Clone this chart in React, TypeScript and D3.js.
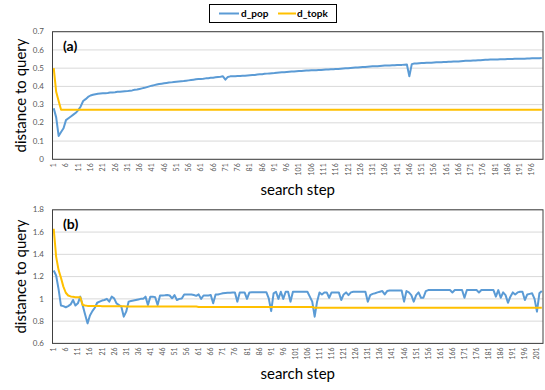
import React from "react";
import * as d3 from "d3";

// ---------- DATA ----------
const popA: number[] = [
  0.28, 0.23, 0.128, 0.15, 0.17, 0.215, 0.225, 0.235, 0.245, 0.255, 0.27, 0.29, 0.32, 0.33, 0.342, 0.35, 0.354, 0.357, 0.36, 0.361,
  0.362, 0.363, 0.364, 0.366, 0.367, 0.368, 0.37, 0.371, 0.372, 0.373,
  0.374, 0.376, 0.378, 0.381, 0.383, 0.386, 0.389, 0.392, 0.396, 0.4,
  0.404, 0.407, 0.41, 0.413, 0.415, 0.417, 0.419, 0.421, 0.422, 0.424,
  0.426, 0.427, 0.428, 0.429, 0.431, 0.433, 0.435, 0.437, 0.439, 0.44,
  0.441, 0.442, 0.444, 0.445, 0.447, 0.448, 0.45, 0.452, 0.453, 0.455,
  0.437, 0.452, 0.455, 0.456, 0.456, 0.457, 0.457, 0.458, 0.459, 0.46,
  0.461, 0.462, 0.463, 0.465, 0.466, 0.467, 0.469, 0.47, 0.471, 0.472,
  0.473, 0.475, 0.476, 0.477, 0.478, 0.479, 0.48, 0.481, 0.482, 0.483,
  0.484, 0.485, 0.486, 0.487, 0.487, 0.488, 0.488, 0.489, 0.49, 0.49,
  0.491, 0.492, 0.493, 0.494, 0.494, 0.495, 0.496, 0.497, 0.498, 0.499,
  0.5, 0.501, 0.502, 0.503, 0.504, 0.505, 0.506, 0.507, 0.508, 0.509,
  0.51, 0.51, 0.511, 0.512, 0.513, 0.514, 0.514, 0.515, 0.516, 0.516,
  0.517, 0.518, 0.518, 0.519, 0.52, 0.455, 0.522, 0.525, 0.526, 0.527,
  0.528, 0.528, 0.529, 0.53, 0.53, 0.531, 0.532, 0.532, 0.533, 0.534,
  0.534, 0.535, 0.535, 0.536, 0.536, 0.537, 0.538, 0.539, 0.54, 0.54,
  0.541, 0.542, 0.542, 0.543, 0.544, 0.545, 0.546, 0.546, 0.547, 0.547,
  0.548, 0.548, 0.549, 0.549, 0.549, 0.55, 0.55, 0.55, 0.551, 0.551,
  0.551, 0.552, 0.552, 0.553, 0.553, 0.554, 0.554, 0.555, 0.555, 0.556,
];

const topkA: number[] = [
  0.5, 0.37, 0.32, 0.272, 0.272, 0.272, 0.272, 0.272, 0.272, 0.272,
  0.272, 0.272, 0.272, 0.272, 0.272, 0.272, 0.272, 0.272, 0.272, 0.272,
  0.272, 0.272, 0.272, 0.272, 0.272, 0.272, 0.272, 0.272, 0.272, 0.272,
  0.272, 0.272, 0.272, 0.272, 0.272, 0.272, 0.272, 0.272, 0.272, 0.272,
  0.272, 0.272, 0.272, 0.272, 0.272, 0.272, 0.272, 0.272, 0.272, 0.272,
  0.272, 0.272, 0.272, 0.272, 0.272, 0.272, 0.272, 0.272, 0.272, 0.272,
  0.272, 0.272, 0.272, 0.272, 0.272, 0.272, 0.272, 0.272, 0.272, 0.272,
  0.272, 0.272, 0.272, 0.272, 0.272, 0.272, 0.272, 0.272, 0.272, 0.272,
  0.272, 0.272, 0.272, 0.272, 0.272, 0.272, 0.272, 0.272, 0.272, 0.272,
  0.272, 0.272, 0.272, 0.272, 0.272, 0.272, 0.272, 0.272, 0.272, 0.272,
  0.272, 0.272, 0.272, 0.272, 0.272, 0.272, 0.272, 0.272, 0.272, 0.272,
  0.272, 0.272, 0.272, 0.272, 0.272, 0.272, 0.272, 0.272, 0.272, 0.272,
  0.272, 0.272, 0.272, 0.272, 0.272, 0.272, 0.272, 0.272, 0.272, 0.272,
  0.272, 0.272, 0.272, 0.272, 0.272, 0.272, 0.272, 0.272, 0.272, 0.272,
  0.272, 0.272, 0.272, 0.272, 0.272, 0.272, 0.272, 0.272, 0.272, 0.272,
  0.272, 0.272, 0.272, 0.272, 0.272, 0.272, 0.272, 0.272, 0.272, 0.272,
  0.272, 0.272, 0.272, 0.272, 0.272, 0.272, 0.272, 0.272, 0.272, 0.272,
  0.272, 0.272, 0.272, 0.272, 0.272, 0.272, 0.272, 0.272, 0.272, 0.272,
  0.272, 0.272, 0.272, 0.272, 0.272, 0.272, 0.272, 0.272, 0.272, 0.272,
  0.272, 0.272, 0.272, 0.272, 0.272, 0.272, 0.272, 0.272, 0.272, 0.272,
];

const popB: number[] = [
  1.255, 1.21, 1.09, 0.94, 0.935, 0.925, 0.935, 0.95, 0.99, 0.94,
  0.96, 1.02, 0.94, 0.86, 0.78, 0.85, 0.89, 0.92, 0.965, 0.975,
  0.985, 0.99, 1.0, 0.975, 1.02, 1.005, 0.96, 0.945, 0.93, 0.84,
  0.885, 0.975, 0.98, 0.985, 0.99, 0.995, 1.0, 1.0, 1.02, 0.945,
  1.02, 1.02, 1.015, 0.945, 1.03, 1.03, 1.032, 1.035, 1.03, 1.005,
  1.034, 0.99, 1.0, 1.004, 1.04, 1.04, 1.04, 1.04, 1.035, 1.027,
  1.04, 1.0, 1.03, 1.03, 1.03, 1.034, 0.96, 1.04, 1.04, 1.045,
  1.05, 1.052, 1.054, 1.056, 1.058, 1.058, 0.975, 1.058, 1.058, 1.058,
  1.0, 1.058, 1.06, 1.06, 1.06, 1.06, 1.06, 1.06, 1.06, 1.004,
  0.89, 1.05, 1.064, 1.0, 1.064, 1.0, 1.064, 1.064, 0.975, 1.064,
  1.064, 1.064, 1.064, 1.064, 1.064, 1.064, 1.02, 0.975, 0.84, 0.975,
  1.058, 1.04, 1.058, 1.058, 1.01, 1.058, 1.058, 1.058, 1.058, 0.99,
  1.04, 1.058, 1.034, 1.058, 1.064, 1.064, 1.064, 1.064, 1.064, 1.064,
  0.975, 1.034, 1.045, 1.05, 1.058, 1.064, 1.07, 1.04, 1.07, 1.075,
  1.075, 1.075, 1.075, 1.075, 1.075, 0.975, 1.07, 1.058, 1.034, 0.975,
  1.034, 1.058, 1.01, 1.01, 1.07, 1.079, 1.079, 1.079, 1.079, 1.079,
  1.079, 1.079, 1.079, 1.079, 1.079, 1.058, 1.079, 1.079, 1.079, 1.079,
  1.01, 1.079, 1.079, 1.079, 1.079, 1.079, 1.058, 1.079, 1.079, 1.079,
  1.079, 1.079, 1.079, 1.02, 1.079, 1.01, 1.058, 1.034, 0.965, 1.02,
  1.058, 1.04, 1.058, 1.064, 1.064, 0.99, 1.04, 1.045, 1.05, 1.0,
  0.885, 1.05, 1.07,
];

const topkB: number[] = [
  1.63, 1.38, 1.26, 1.19, 1.11, 1.055, 1.03, 1.022, 1.018, 1.015,
  1.015, 1.015, 0.945, 0.94, 0.937, 0.937, 0.937, 0.937, 0.937, 0.937,
  0.934, 0.934, 0.934, 0.934, 0.934, 0.934, 0.934, 0.934, 0.934, 0.934,
  0.931, 0.931, 0.931, 0.931, 0.931, 0.931, 0.931, 0.931, 0.931, 0.931,
  0.931, 0.931, 0.931, 0.931, 0.931, 0.931, 0.931, 0.931, 0.931, 0.931,
  0.931, 0.931, 0.931, 0.931, 0.931, 0.931, 0.931, 0.931, 0.931, 0.931,
  0.927, 0.927, 0.927, 0.927, 0.927, 0.927, 0.927, 0.927, 0.927, 0.927,
  0.927, 0.927, 0.927, 0.927, 0.927, 0.927, 0.927, 0.927, 0.927, 0.927,
  0.927, 0.927, 0.927, 0.927, 0.927, 0.927, 0.927, 0.927, 0.927, 0.927,
  0.927, 0.927, 0.927, 0.927, 0.927, 0.927, 0.927, 0.927, 0.927, 0.927,
  0.927, 0.927, 0.927, 0.927, 0.927, 0.927, 0.927, 0.927, 0.921, 0.921,
  0.921, 0.921, 0.921, 0.921, 0.921, 0.921, 0.921, 0.921, 0.921, 0.921,
  0.921, 0.921, 0.921, 0.921, 0.921, 0.921, 0.921, 0.921, 0.921, 0.921,
  0.921, 0.921, 0.921, 0.921, 0.921, 0.921, 0.921, 0.921, 0.921, 0.921,
  0.921, 0.921, 0.921, 0.921, 0.921, 0.921, 0.921, 0.921, 0.921, 0.921,
  0.921, 0.921, 0.921, 0.921, 0.921, 0.921, 0.921, 0.921, 0.921, 0.921,
  0.921, 0.921, 0.921, 0.921, 0.921, 0.921, 0.921, 0.921, 0.921, 0.921,
  0.921, 0.921, 0.921, 0.921, 0.921, 0.921, 0.921, 0.921, 0.921, 0.921,
  0.921, 0.921, 0.921, 0.921, 0.921, 0.921, 0.921, 0.921, 0.921, 0.921,
  0.921, 0.921, 0.921, 0.921, 0.921, 0.921, 0.921, 0.921, 0.921, 0.921,
  0.921, 0.921, 0.921,
];

const yTicksA: number[] = [0, 0.1, 0.2, 0.3, 0.4, 0.5, 0.6, 0.7];
const yTicksB: number[] = [0.6, 0.8, 1, 1.2, 1.4, 1.6, 1.8];
const seriesNames: string[] = ["d_pop", "d_topk"];
const panelLabels: string[] = ["(a)", "(b)"];
const xTitle = "search step";
const yTitle = "distance to query";

// ---------- STYLE ----------
const BLUE = "#5b9bd5";
const ORANGE = "#ffc000";
const FONT = "Lato, 'Open Sans', sans-serif";
const LEFT = 52.5;
const RIGHT = 543;

type PanelProps = {
  label: string;
  pop: number[];
  topk: number[];
  yDomain: [number, number];
  yTicks: number[];
  top: number;
  bottom: number;
};

function Panel({ label, pop, topk, yDomain, yTicks, top, bottom }: PanelProps) {
  const steps = pop.map((_, i) => i + 1);
  const x = d3.scalePoint<number>().domain(steps).range([LEFT, RIGHT]).padding(0.5);
  const y = d3.scaleLinear().domain(yDomain).range([bottom, top]);
  const line = d3
    .line<number>()
    .x((_, i) => x(steps[i]) as number)
    .y((v) => y(v));
  const xLabels = steps.filter((s) => (s - 1) % 5 === 0);
  const fmt = (v: number) => d3.format("~g")(v);
  const midY = (top + bottom) / 2;
  return (
    <g>
      {yTicks.map((t) => (
        <line key={"g" + t} x1={LEFT} x2={RIGHT} y1={y(t)} y2={y(t)} stroke="#d9d9d9" strokeWidth={1} />
      ))}
      {yTicks.map((t) => (
        <text key={"t" + t} x={44} y={y(t)} dy="0.33em" textAnchor="end" fontSize={8} fill="#595959" fontFamily={FONT}>
          {fmt(t)}
        </text>
      ))}
      {xLabels.map((s) => (
        <text
          key={"x" + s}
          transform={`translate(${(x(s) as number) + 2.5},${bottom + 4}) rotate(-90)`}
          textAnchor="end"
          fontSize={7}
          fill="#595959"
          fontFamily={FONT}
        >
          {s}
        </text>
      ))}
      <path d={line(pop) || ""} fill="none" stroke={BLUE} strokeWidth={2} strokeLinejoin="round" />
      <path d={line(topk) || ""} fill="none" stroke={ORANGE} strokeWidth={2} strokeLinejoin="round" />
      <rect x={LEFT} y={top} width={RIGHT - LEFT} height={bottom - top} fill="none" stroke="#404040" strokeWidth={1} />
      <text x={63} y={top + 19} fontSize={14} fontWeight="bold" fontFamily={FONT} fill="#000">
        {label}
      </text>
      <text x={(LEFT + RIGHT) / 2} y={bottom + 36} textAnchor="middle" fontSize={15} fontFamily={FONT} fill="#000">
        {xTitle}
      </text>
      <text
        transform={`translate(26,${midY}) rotate(-90)`}
        textAnchor="middle"
        fontSize={15}
        fontFamily={FONT}
        fill="#000"
      >
        {yTitle}
      </text>
    </g>
  );
}

export default function App() {
  return (
    <svg
      width={545}
      height={390}
      style={{ position: "absolute", left: 0, top: 0, background: "#fff" }}
    >
      <rect x={0} y={0} width={545} height={390} fill="#fff" />
      <g>
        <rect x={209.5} y={4.5} width={127} height={18} fill="#fff" stroke="#000" strokeWidth={1} />
        <line x1={219} x2={239} y1={13.5} y2={13.5} stroke={BLUE} strokeWidth={2} />
        <text x={241} y={17} fontSize={10} fontWeight="bold" fontFamily={FONT}>
          {seriesNames[0]}
        </text>
        <line x1={278} x2={296} y1={13.5} y2={13.5} stroke={ORANGE} strokeWidth={2} />
        <text x={297} y={17} fontSize={10} fontWeight="bold" fontFamily={FONT}>
          {seriesNames[1]}
        </text>
      </g>
      <Panel label={panelLabels[0]} pop={popA} topk={topkA} yDomain={[0, 0.7]} yTicks={yTicksA} top={31.7} bottom={159.3} />
      <Panel label={panelLabels[1]} pop={popB} topk={topkB} yDomain={[0.6, 1.8]} yTicks={yTicksB} top={209.8} bottom={343.4} />
    </svg>
  );
}
